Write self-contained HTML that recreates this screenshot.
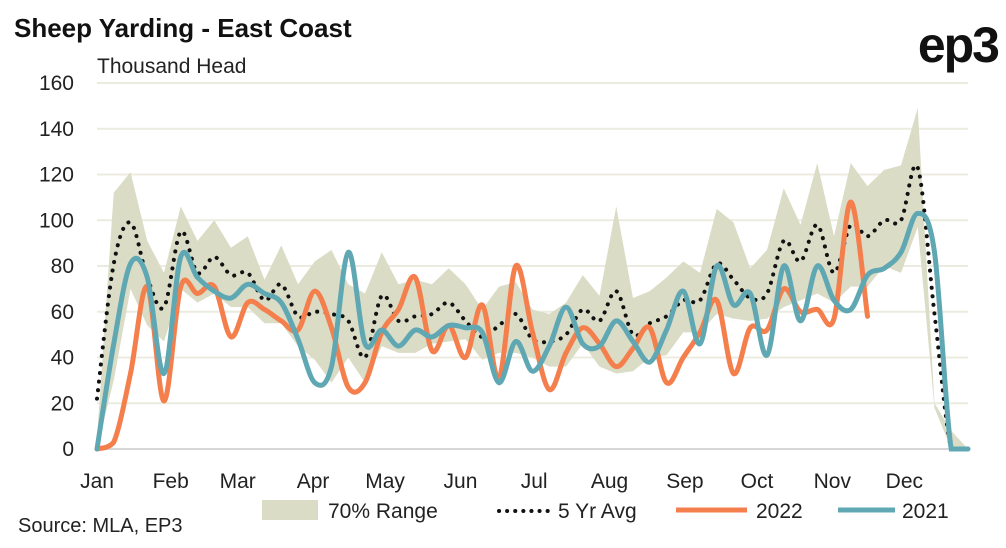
<!DOCTYPE html>
<html><head><meta charset="utf-8"><style>
html,body{margin:0;padding:0;background:#fff;}
body{width:1006px;height:543px;overflow:hidden;font-family:"Liberation Sans",sans-serif;}
</style></head><body>
<svg id="chart" width="1006" height="543" viewBox="0 0 1006 543" xmlns="http://www.w3.org/2000/svg" font-family="Liberation Sans, sans-serif">
<text x="14" y="37" font-size="26" font-weight="bold" fill="#111">Sheep Yarding - East Coast</text>
<text x="998" y="62" font-size="50" font-weight="bold" fill="#111" text-anchor="end" letter-spacing="-2">ep3</text>
<text x="97" y="73" font-size="21" fill="#222">Thousand Head</text>
<g id="grid"></g>
<g id="yticks"></g>
<g id="xticks"></g>
<g id="series"></g>
<g>
  <rect x="262" y="500" width="56" height="20" fill="#dadcc6"/>
  <text x="328" y="518" font-size="21" fill="#222">70% Range</text>
  <line x1="499" y1="511" x2="550" y2="511" stroke="#111" stroke-width="4" stroke-dasharray="0.1 8" stroke-linecap="round"/>
  <text x="558" y="518" font-size="21" fill="#222">5 Yr Avg</text>
  <line x1="676" y1="510" x2="747" y2="510" stroke="#f47f4c" stroke-width="5"/>
  <text x="756" y="518" font-size="21" fill="#222">2022</text>
  <line x1="838" y1="510" x2="895" y2="510" stroke="#5fa8b3" stroke-width="5"/>
  <text x="902" y="518" font-size="21" fill="#222">2021</text>
</g>
<text x="18" y="532" font-size="20" fill="#222">Source: MLA, EP3</text>
</svg>
<script>
const yTicks=[0,20,40,60,80,100,120,140,160];
const months=["Jan","Feb","Mar","Apr","May","Jun","Jul","Aug","Sep","Oct","Nov","Dec"];
const monthWeeks=[0,4.4,8.4,12.9,17.2,21.7,26.1,30.6,35.1,39.4,43.9,48.2];
const rangeHi=[5,112,121,91,77,106,91,100,88,93,74,89,72,82,87,72,68,86,72,74,72,79,72,61,71,73,61,59,64,76,67,106,66,69,75,82,77,105,99,79,87,114,98,125,93,125,115,122,124,149,20,8,0];
const rangeLo=[0,30,70,54,47,70,64,68,62,62,55,55,45,39,29,40,29,45,42,42,46,47,48,39,42,42,40,36,36,46,36,33,34,40,41,51,51,59,57,56,57,62,65,68,64,71,71,80,77,97,18,0,0];
const avg5=[22,81,99,75,62,95,77,84,76,77,65,72,58,60,59,56,40,67,56,58,59,64,56,49,54,59,48,47,50,61,56,69,50,55,58,65,65,81,74,66,68,91,82,98,77,98,93,100,100,123,59,0,0];
const y2022=[0,3,33,71,21,71,68,71,49,64,61,56,52,69,53,27,29,51,61,75,43,54,40,63,31,80,51,26,42,53,46,36,44,53,29,40,51,65,33,53,52,70,60,61,57,108,58];
const y2021=[0,46,81,75,33,84,75,69,66,72,68,64,48,29,36,86,46,52,45,52,49,54,53,51,29,47,34,45,62,46,45,56,47,38,52,69,46,80,63,68,41,80,56,80,65,61,76,79,86,103,86,0,0];

const X0=97,X1=968,NW=52,Y0=449,YT=83,VMAX=160;
const xs=i=>X0+(X1-X0)*i/NW;
const ys=v=>Y0-(Y0-YT)*v/VMAX;
const NS="http://www.w3.org/2000/svg";
function mk(tag,attrs,parent){const e=document.createElementNS(NS,tag);for(const k in attrs)e.setAttribute(k,attrs[k]);parent.appendChild(e);return e;}
const grid=document.getElementById('grid'),yt=document.getElementById('yticks'),xt=document.getElementById('xticks'),ser=document.getElementById('series');
yTicks.forEach(v=>{
  const l=mk('line',{x1:X0,x2:X1,y1:ys(v),y2:ys(v),stroke:v===0?'#d6d6d6':'#ecebdf','stroke-width':2},grid);
  
  
  const t=mk('text',{x:74,y:ys(v)+7,'font-size':21,fill:'#222','text-anchor':'end'},yt);
  t.textContent=v;
  
  
});
months.forEach((m,i)=>{
  const t=mk('text',{x:xs(monthWeeks[i]),y:488,'font-size':21,fill:'#222','text-anchor':'middle'},xt);
  t.textContent=m;
  
  
});
function smooth(pts){
  let d='M'+pts[0][0]+','+pts[0][1];
  for(let i=0;i<pts.length-1;i++){
    const p0=pts[i-1]||pts[i],p1=pts[i],p2=pts[i+1],p3=pts[i+2]||p2;
    const t=0.5/3;
    const c1=[p1[0]+(p2[0]-p0[0])*t,Math.min(Y0,p1[1]+(p2[1]-p0[1])*t)];
    const c2=[p2[0]-(p3[0]-p1[0])*t,Math.min(Y0,p2[1]-(p3[1]-p1[1])*t)];
    d+=' C'+c1[0]+','+c1[1]+' '+c2[0]+','+c2[1]+' '+p2[0]+','+p2[1];
  }
  return d;
}
let bd='M'+rangeHi.map((v,i)=>xs(i)+','+ys(v)).join(' L');
for(let i=rangeLo.length-1;i>=0;i--)bd+=' L'+xs(i)+','+ys(rangeLo[i]);
const band=mk('path',{d:bd+'Z',fill:'#dadcc6'},ser);


const a=mk('path',{d:smooth(avg5.map((v,i)=>[xs(i),ys(v)])),fill:'none',stroke:'#111','stroke-width':4,'stroke-dasharray':'0.1 8.5','stroke-linecap':'round'},ser);


const o=mk('path',{d:smooth(y2022.map((v,i)=>[xs(i),ys(v)])),fill:'none',stroke:'#f47f4c','stroke-width':5,'stroke-linecap':'round'},ser);


const tl=mk('path',{d:smooth(y2021.map((v,i)=>[xs(i),ys(v)])),fill:'none',stroke:'#5fa8b3','stroke-width':5,'stroke-linecap':'round'},ser);


</script>
</body></html>
